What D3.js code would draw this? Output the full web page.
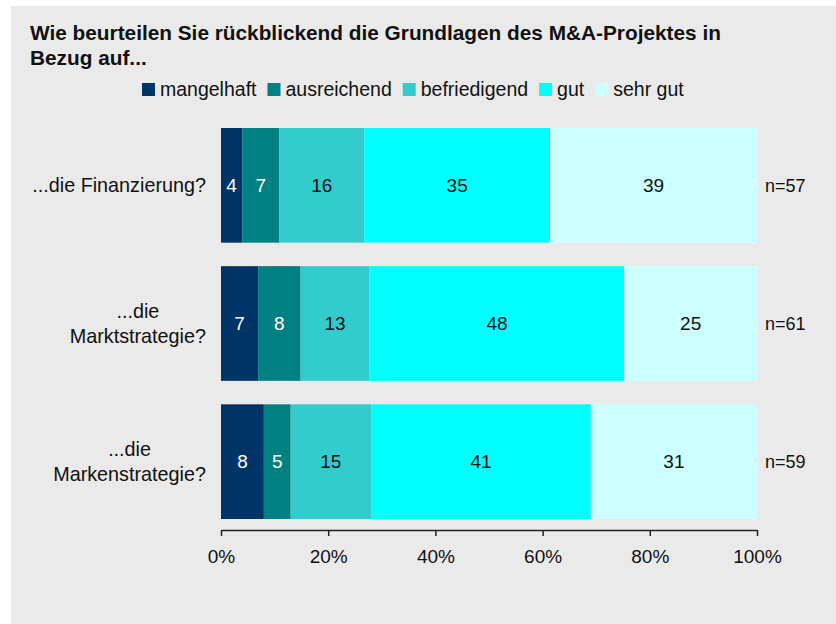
<!DOCTYPE html>
<html>
<head>
<meta charset="utf-8">
<script src="https://cdn.jsdelivr.net/npm/d3@7"></script>
<style>
  body { margin: 0; background: #fff; }
  text { font-family: "Liberation Sans", Arial, sans-serif; fill: #111; }
</style>
</head>
<body>
<svg id="chart" width="836" height="624"></svg>
<script>
// data
const categories = [["...die Finanzierung?"], ["...die", "Marktstrategie?"], ["...die", "Markenstrategie?"]];
const seriesNames = ["mangelhaft", "ausreichend", "befriedigend", "gut", "sehr gut"];
const seriesColors = ["#003366", "#008080", "#33cccc", "#00ffff", "#ccffff"];
const labelColors = ["#fff", "#fff", "#111", "#111", "#111"];
const mangelhaft = [4, 7, 8];
const ausreichend = [7, 8, 5];
const befriedigend = [16, 13, 15];
const gut = [35, 48, 41];
const sehrGut = [39, 25, 31];
const nValues = [57, 61, 59];
const tickValues = [0, 0.2, 0.4, 0.6, 0.8, 1];
const title = ["Wie beurteilen Sie rückblickend die Grundlagen des M&A-Projektes in", "Bezug auf..."];

const seriesValues = [mangelhaft, ausreichend, befriedigend, gut, sehrGut];
let rows = categories.map((c, i) => {
    let r = {idx: i};
    seriesNames.forEach((s, j) => r[s] = seriesValues[j][i]);
    return r;
});

const svg = d3.select("#chart");

// panel background
svg.append("rect")
    .attr("x", 11).attr("y", 6)
    .attr("width", 836 - 11).attr("height", 624 - 6)
    .attr("fill", "#eaeaea");

// title
svg.append("g").selectAll("text")
    .data(title)
    .enter().append("text")
    .attr("x", 30)
    .attr("y", (d, i) => 40 + i * 25)
    .style("font-weight", "bold")
    .style("font-size", "20.8px")
    .text(d => d);

// scales
let x = d3.scaleLinear().domain([0, 1]).range([221, 757]);
let y = d3.scaleBand().domain(d3.range(categories.length)).range([128, 519]).paddingInner(0.17).paddingOuter(0);
let color = d3.scaleOrdinal().domain(seriesNames).range(seriesColors);

let stack = d3.stack().keys(seriesNames).offset(d3.stackOffsetExpand);
let series = stack(rows);

let layers = svg.append("g").selectAll("g")
    .data(series)
    .enter().append("g")
    .attr("fill", d => color(d.key));

layers.selectAll("rect")
    .data(d => d)
    .enter().append("rect")
    .attr("x", d => x(d[0]))
    .attr("y", d => y(d.data.idx))
    .attr("width", d => x(d[1]) - x(d[0]))
    .attr("height", y.bandwidth());

// segment labels
series.forEach((s, j) => {
    svg.append("g").selectAll("text")
        .data(s)
        .enter().append("text")
        .attr("x", d => (x(d[0]) + x(d[1])) / 2)
        .attr("y", d => y(d.data.idx) + y.bandwidth() / 2)
        .attr("text-anchor", "middle")
        .attr("dy", "0.35em")
        .style("font-size", "19px")
        .style("fill", labelColors[j])
        .text(d => d.data[s.key]);
});

// n labels
svg.append("g").selectAll("text")
    .data(nValues)
    .enter().append("text")
    .attr("x", 765)
    .attr("y", (d, i) => y(i) + y.bandwidth() / 2)
    .attr("dy", "0.35em")
    .style("font-size", "18px")
    .text(d => "n=" + d);

// category labels, centered lines, block right aligned
let catG = svg.append("g");
categories.forEach((lines, i) => {
    let g = catG.append("g");
    let texts = g.selectAll("text")
        .data(lines)
        .enter().append("text")
        .attr("text-anchor", "middle")
        .attr("y", (d, k) => y(i) + y.bandwidth() / 2 + (k - (lines.length - 1) / 2) * 25)
        .attr("dy", "0.35em")
        .style("font-size", "19.8px")
        .text(d => d);
    let maxW = d3.max(texts.nodes(), n => n.getComputedTextLength());
    texts.attr("x", 206 - maxW / 2);
});

// x axis
let xAxis = d3.axisBottom(x)
    .tickValues(tickValues)
    .tickFormat(d3.format(".0%"))
    .tickSizeOuter(0)
    .tickSizeInner(6)
    .tickPadding(14);

let axisG = svg.append("g")
    .attr("transform", "translate(0,530)")
    .call(xAxis);
axisG.select(".domain").attr("stroke", "#222").attr("stroke-width", 1.5);
axisG.selectAll(".tick line").attr("stroke", "#222").attr("stroke-width", 1.5);
axisG.selectAll(".tick text")
    .style("font-size", "19px")
    .style("font-family", "Liberation Sans, Arial, sans-serif")
    .attr("fill", "#111");

// legend
let legend = svg.append("g");
let lx = 142;
seriesNames.forEach((s, j) => {
    legend.append("rect")
        .attr("x", lx).attr("y", 83)
        .attr("width", 13).attr("height", 13)
        .attr("fill", color(s));
    let t = legend.append("text")
        .attr("x", lx + 18)
        .attr("y", 89.5)
        .attr("dy", "0.35em")
        .style("font-size", "19.5px")
        .text(s);
    lx = lx + 18 + t.node().getComputedTextLength() + 11;
});
</script>
</body>
</html>
